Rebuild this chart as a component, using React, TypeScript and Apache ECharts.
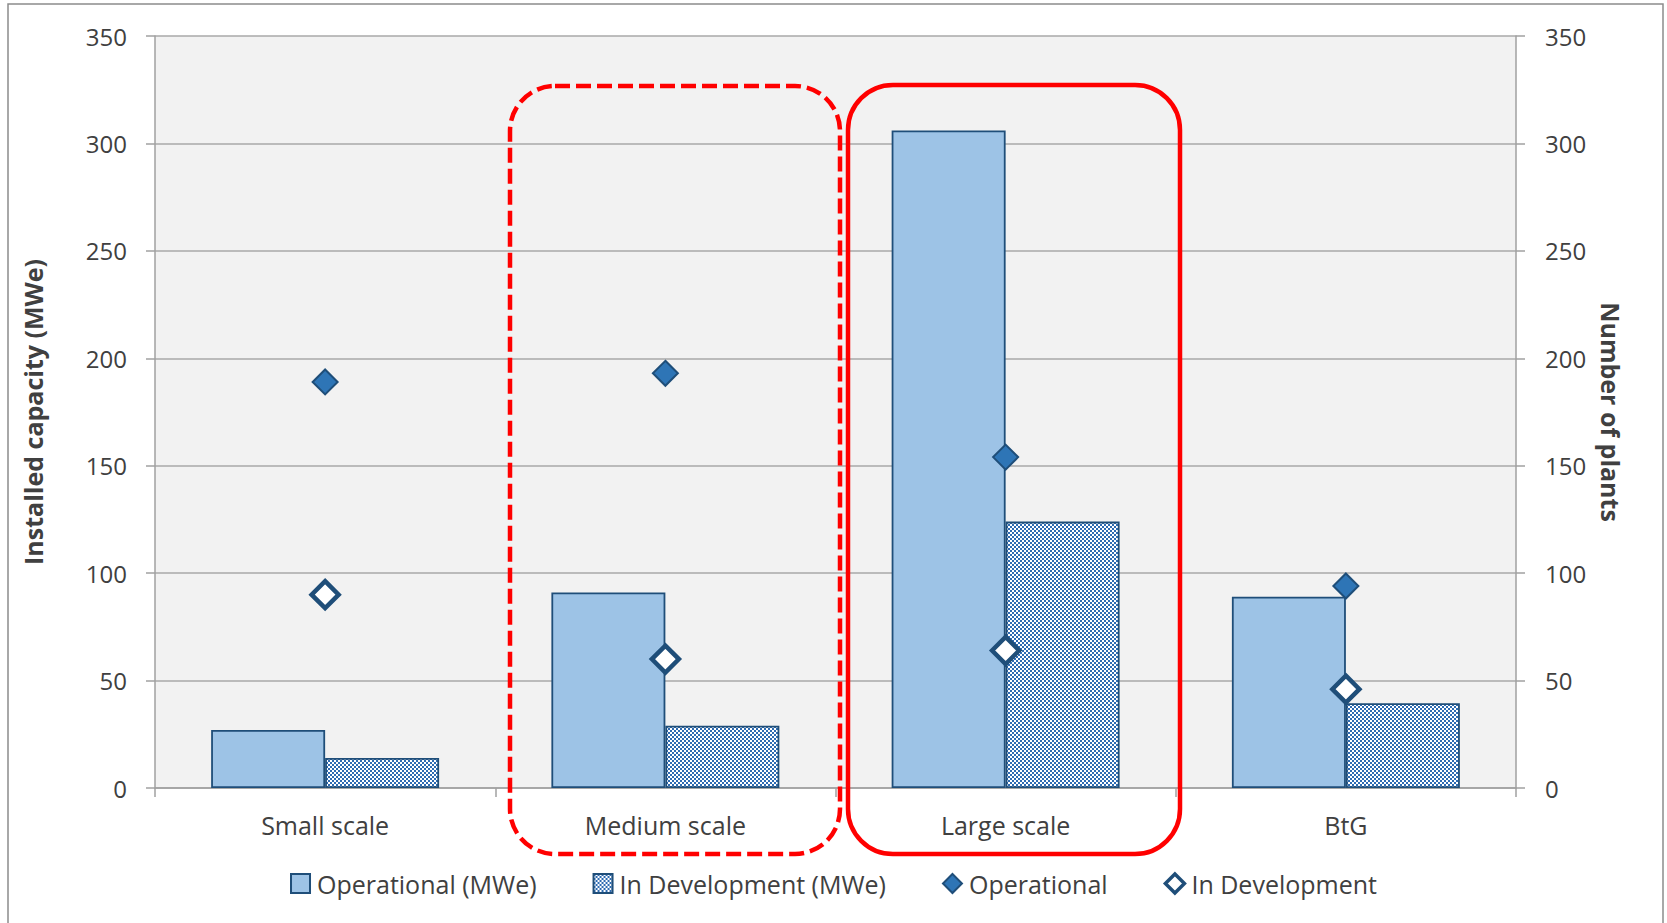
import React, { useEffect, useRef } from "react";
import * as echarts from "echarts";

// Plant classes on the category axis
const categories = ["Small scale", "Medium scale", "Large scale", "BtG"];

// Installed capacity (MWe), left axis
const operationalMWe = [27, 91, 306, 89];
const developmentMWe = [14, 29, 124, 39.5];

// Number of plants, right axis
const operationalPlants = [189, 193, 154, 94];
const developmentPlants = [90, 60, 64, 46];

// Shared value-axis range for both axes
const axisMin = 0;
const axisMax = 350;
const axisStep = 50;

const FONT = "'Open Sans', 'Noto Sans', sans-serif";
const TEXT = "#404040";
const DARK_BLUE = "#1F4E79";

function checkerPattern(): HTMLCanvasElement {
  const c = document.createElement("canvas");
  c.width = 4;
  c.height = 4;
  const ctx = c.getContext("2d")!;
  ctx.fillStyle = "#ffffff";
  ctx.fillRect(0, 0, 4, 4);
  ctx.fillStyle = "#2E6BB2";
  ctx.fillRect(0, 0, 2, 2);
  ctx.fillRect(2, 2, 2, 2);
  return c;
}

export default function App() {
  const ref = useRef<HTMLDivElement>(null);

  useEffect(() => {
    if (!ref.current) return;
    const chart = echarts.init(ref.current, undefined, { renderer: "svg" });
    const checker = { image: checkerPattern(), repeat: "repeat" as const };

    const option: any = {
      animation: false,
      backgroundColor: "#ffffff",
      textStyle: { fontFamily: FONT, color: TEXT },
      grid: {
        left: 155,
        right: 151,
        top: 36,
        bottom: 135,
        show: true,
        backgroundColor: "#F2F2F2",
        borderWidth: 0,
      },
      legend: {
        left: "center",
        top: 866,
        itemWidth: 19,
        itemHeight: 19,
        itemGap: 56,
        textStyle: { fontSize: 25, color: TEXT, fontFamily: FONT, padding: [0, 0, 0, 2] },
        data: [
          { name: "Operational (MWe)", icon: "rect" },
          { name: "In Development (MWe)", icon: "rect" },
          { name: "Operational", icon: "diamond" },
          { name: "In Development", icon: "diamond", itemStyle: { borderWidth: 3.5 } },
        ],
      },
      xAxis: {
        type: "category",
        data: categories,
        axisLine: { show: true, lineStyle: { color: "#A0A0A0", width: 1.5 } },
        axisTick: { show: true, interval: 0, length: 9, lineStyle: { color: "#A0A0A0", width: 1.5 } },
        axisLabel: { fontSize: 25, color: TEXT, margin: 24, fontFamily: FONT },
      },
      yAxis: [
        {
          type: "value",
          min: axisMin,
          max: axisMax,
          interval: axisStep,
          name: "Installed capacity (MWe)",
          nameLocation: "middle",
          nameGap: 110,
          nameRotate: 90,
          nameTextStyle: { fontSize: 25, fontWeight: "bold", color: TEXT, fontFamily: FONT },
          axisLine: { show: true, lineStyle: { color: "#A0A0A0", width: 1.5 } },
          axisTick: { show: true, length: 9, lineStyle: { color: "#A0A0A0", width: 1.5 } },
          axisLabel: { fontSize: 24, color: TEXT, margin: 28, fontFamily: FONT },
          splitLine: { show: true, lineStyle: { color: "#A8A8A8", width: 1.5 } },
        },
        {
          type: "value",
          min: axisMin,
          max: axisMax,
          interval: axisStep,
          position: "right",
          name: "Number of plants",
          nameLocation: "middle",
          nameGap: 82,
          nameRotate: -90,
          nameTextStyle: { fontSize: 25, fontWeight: "bold", color: TEXT, fontFamily: FONT },
          axisLine: { show: true, lineStyle: { color: "#A0A0A0", width: 1.5 } },
          axisTick: { show: true, length: 9, lineStyle: { color: "#A0A0A0", width: 1.5 } },
          axisLabel: { fontSize: 24, color: TEXT, margin: 29, fontFamily: FONT },
          splitLine: { show: false },
        },
      ],
      series: [
        {
          name: "Operational (MWe)",
          type: "bar",
          yAxisIndex: 0,
          data: operationalMWe,
          barGap: "0%",
          barCategoryGap: "33%",
          itemStyle: { color: "#9DC3E6", borderColor: DARK_BLUE, borderWidth: 1.8 },
        },
        {
          name: "In Development (MWe)",
          type: "bar",
          yAxisIndex: 0,
          data: developmentMWe,
          barGap: "0%",
          barCategoryGap: "33%",
          itemStyle: { color: checker, borderColor: DARK_BLUE, borderWidth: 1.8 },
        },
        {
          name: "Operational",
          type: "scatter",
          yAxisIndex: 1,
          data: operationalPlants,
          symbol: "diamond",
          symbolSize: 25,
          itemStyle: { color: "#2E75B6", borderColor: DARK_BLUE, borderWidth: 2, opacity: 1 },
          z: 5,
        },
        {
          name: "In Development",
          type: "scatter",
          yAxisIndex: 1,
          data: developmentPlants,
          symbol: "diamond",
          symbolSize: 27,
          itemStyle: { color: "#ffffff", borderColor: DARK_BLUE, borderWidth: 4.5, opacity: 1 },
          z: 5,
        },
      ],
      graphic: [
        {
          type: "rect",
          silent: true,
          shape: { x: 8, y: 4, width: 1655, height: 960 },
          style: { fill: "none", stroke: "#8C8C8C", lineWidth: 1.5 },
          z: 100,
        },
        {
          type: "rect",
          silent: true,
          shape: { x: 510, y: 86, width: 330, height: 768, r: 45 },
          style: { fill: "none", stroke: "#FF0000", lineWidth: 4.5, lineDash: [15, 6] },
          z: 100,
        },
        {
          type: "rect",
          silent: true,
          shape: { x: 848, y: 85, width: 332, height: 769, r: 45 },
          style: { fill: "none", stroke: "#FF0000", lineWidth: 4.5 },
          z: 100,
        },
      ],
    };

    chart.setOption(option);
    return () => chart.dispose();
  }, []);

  return (
    <div
      ref={ref}
      style={{ position: "absolute", left: 0, top: 0, width: 1667, height: 923, background: "#fff" }}
    />
  );
}
